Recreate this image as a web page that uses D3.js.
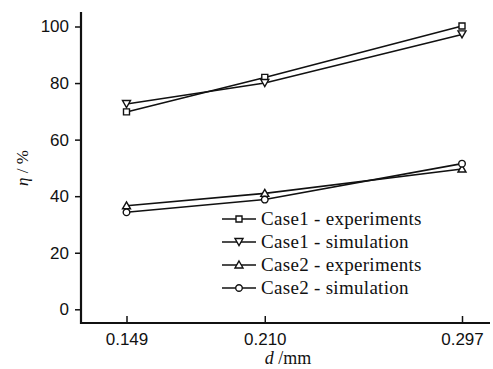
<!DOCTYPE html>
<html lang="en">
<head>
<meta charset="UTF-8">
<title>eta vs d</title>
<style>
  body { margin: 0; background: #fff; }
  text { font-family: "Liberation Serif", "Times New Roman", serif; fill: #111; }
</style>
</head>
<body>
<svg id="chart" width="493" height="369"></svg>
<script src="https://d3js.org/d3.v7.min.js"></script>
<script>
// data
const dValues = [0.149, 0.210, 0.297];
const case1Exp = [69.8, 82.0, 100.2];
const case1Sim = [72.6, 80.0, 97.2];
const case2Exp = [36.6, 41.0, 49.6];
const case2Sim = [34.3, 38.8, 51.5];
const seriesNames = ["Case1 - experiments", "Case1 - simulation", "Case2 - experiments", "Case2 - simulation"];
const yTicks = [0, 20, 40, 60, 80, 100];

const series = [
  { name: seriesNames[0], values: case1Exp, symbol: d3.symbolSquare },
  { name: seriesNames[1], values: case1Sim, symbol: "down" },
  { name: seriesNames[2], values: case2Exp, symbol: d3.symbolTriangle },
  { name: seriesNames[3], values: case2Sim, symbol: d3.symbolCircle }
];

const svg = d3.select("#chart");
const mLeft = 81, mRight = 490, mTop = 12, mBottom = 323;

const x = d3.scaleLinear().domain([0.149, 0.297]).range([126.5, 462]);
const y = d3.scaleLinear().domain([0, 100]).range([309.3, 26.5]);

// y axis
const yAxis = svg.append("g")
  .attr("transform", `translate(${mLeft},0)`)
  .call(d3.axisLeft(y).tickValues(yTicks).tickSize(6).tickPadding(6));
yAxis.select(".domain").remove();
yAxis.selectAll("line").attr("stroke", "#111").attr("stroke-width", 1.5);
yAxis.selectAll("text").attr("fill", "#333")
  .style("font-family", "Liberation Sans, Arial, sans-serif").attr("font-size", 17);

// x axis, ticks pointing inward
const xAxis = svg.append("g")
  .attr("transform", `translate(0,${mBottom})`)
  .call(d3.axisBottom(x).tickValues(dValues).tickFormat(d3.format(".3f")).tickSize(0).tickPadding(10));
xAxis.select(".domain").remove();
xAxis.selectAll(".tick").append("line")
  .attr("y1", 0).attr("y2", -7).attr("stroke", "#111").attr("stroke-width", 1.5);
xAxis.selectAll("text").attr("font-size", 17).attr("fill", "#333")
  .style("font-family", "Liberation Sans, Arial, sans-serif");

// axis lines
svg.append("line").attr("x1", mLeft).attr("x2", mLeft).attr("y1", mTop).attr("y2", mBottom + 1)
  .attr("stroke", "#111").attr("stroke-width", 2.2);
svg.append("line").attr("x1", mLeft - 1).attr("x2", mRight).attr("y1", mBottom).attr("y2", mBottom)
  .attr("stroke", "#111").attr("stroke-width", 2.2);

// axis titles
svg.append("text")
  .attr("transform", "translate(28,168) rotate(-90)")
  .attr("text-anchor", "middle").attr("font-size", 17)
  .html('<tspan font-style="italic">η</tspan> / %');
svg.append("text")
  .attr("x", 288).attr("y", 364)
  .attr("text-anchor", "middle").attr("font-size", 18)
  .html('<tspan font-style="italic">d</tspan> /mm');

function markerPath(sym) {
  if (sym === "down") return "M-4,-3.5L4,-3.5L0,3.5Z";
  if (sym === d3.symbolSquare) return d3.symbol(sym, 36)();
  if (sym === d3.symbolTriangle) return "M0,-4L4,3L-4,3Z";
  return d3.symbol(sym, 34)();
}

const line = d3.line().x((v, i) => x(dValues[i])).y(v => y(v));

series.forEach(s => {
  svg.append("path")
    .attr("d", line(s.values))
    .attr("fill", "none").attr("stroke", "#111").attr("stroke-width", 1.6);
});
series.forEach(s => {
  svg.selectAll(null)
    .data(s.values)
    .enter()
    .append("path")
    .attr("transform", (v, i) => `translate(${x(dValues[i])},${y(v)})`)
    .attr("d", markerPath(s.symbol))
    .attr("fill", "#fff").attr("stroke", "#111").attr("stroke-width", 1.4);
});

// legend
const legend = svg.append("g").attr("transform", "translate(222,219)");
series.forEach((s, i) => {
  const g = legend.append("g").attr("transform", `translate(0,${i * 23})`);
  g.append("line").attr("x1", 0).attr("x2", 34).attr("y1", 0).attr("y2", 0)
    .attr("stroke", "#111").attr("stroke-width", 1.6);
  g.append("path").attr("transform", "translate(17,0)").attr("d", markerPath(s.symbol))
    .attr("fill", "#fff").attr("stroke", "#111").attr("stroke-width", 1.4);
  g.append("text").attr("x", 39).attr("y", 6).attr("font-size", 19)
    .style("letter-spacing", "0.3px").text(s.name);
});
</script>
</body>
</html>
